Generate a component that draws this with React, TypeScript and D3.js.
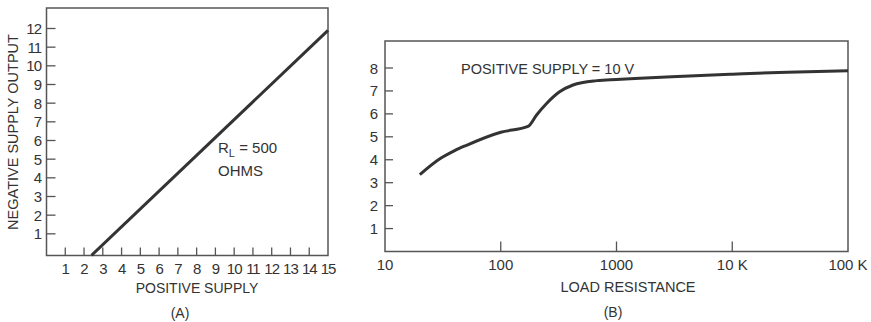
import React from "react";
import * as d3 from "d3";

// Chart A data
const aXTicks = [1, 2, 3, 4, 5, 6, 7, 8, 9, 10, 11, 12, 13, 14, 15];
const aYTicks = [1, 2, 3, 4, 5, 6, 7, 8, 9, 10, 11, 12];
const aLineX = [2.4, 15];
const aLineY = [-0.15, 11.9];

// Chart B data
const bXTicks = [10, 100, 1000, 10000, 100000];
const bXTickLabels = ["10", "100", "1000", "10 K", "100 K"];
const bYTicks = [1, 2, 3, 4, 5, 6, 7, 8];
const bR = [20, 30, 40, 50, 100, 172, 204, 250, 320, 421, 677, 1000, 1600, 3000, 10000, 30000, 100000];
const bV = [3.35, 4.05, 4.4, 4.62, 5.2, 5.45, 5.95, 6.46, 6.95, 7.26, 7.45, 7.5, 7.55, 7.62, 7.73, 7.82, 7.88];

const FONT = "'Liberation Sans', Arial, sans-serif";
const INK = "#333";
const FRAME = "#555";

export default function App() {
  // Chart A scales
  const ax = d3.scaleLinear().domain([0, 15]).range([46.5, 328]);
  const ay = d3.scaleLinear().domain([0, 12]).range([252.5, 28.5]);
  const aTop = 8;
  const aBottom = 255.5;

  // Chart B scales
  const bx = d3.scaleLog().domain([10, 100000]).range([385, 848]);
  const by = d3.scaleLinear().domain([0, 8]).range([251.5, 68]);
  const bTop = 41;
  const bBottom = 251.5;

  const aLine = d3.line<number>().x((d, i) => ax(aLineX[i])).y((d, i) => ay(aLineY[i]));
  const bLine = d3
    .line<number>()
    .x((d, i) => bx(bR[i]))
    .y((d, i) => by(bV[i]))
    .curve(d3.curveMonotoneX);

  return (
    <svg width={871} height={322} style={{ position: "absolute", left: 0, top: 0, background: "#fff" }}>
      <g fontFamily={FONT} fill={INK}>
        {/* Chart A frame */}
        <path
          d={`M${ax(0)},${aTop} L${ax(0)},${aBottom} L${ax(15)},${aBottom} L${ax(15)},${aTop} Z`}
          fill="none"
          stroke={FRAME}
          strokeWidth={1.5}
        />
        {aXTicks.slice(0, 14).map((t) => (
          <line key={"axt" + t} x1={ax(t)} x2={ax(t)} y1={aBottom} y2={aBottom - 8} stroke={FRAME} strokeWidth={1.3} />
        ))}
        {aXTicks.map((t) => (
          <text key={"axl" + t} x={ax(t)} y={273.5} fontSize={15} textAnchor="middle" letterSpacing={-1}>
            {t}
          </text>
        ))}
        {aYTicks.map((t) => (
          <line key={"ayt" + t} x1={ax(0)} x2={ax(0) + 9} y1={ay(t)} y2={ay(t)} stroke={FRAME} strokeWidth={1.3} />
        ))}
        {aYTicks.map((t) => (
          <text key={"ayl" + t} x={41} y={ay(t) + 5.5} fontSize={15} textAnchor="end" letterSpacing={-1}>
            {t}
          </text>
        ))}
        <path d={aLine(aLineX) || ""} fill="none" stroke={INK} strokeWidth={3} />
        <text x={218} y={153} fontSize={15}>
          R
          <tspan fontSize={11} dy={4}>L</tspan>
          <tspan dy={-4}> = 500</tspan>
        </text>
        <text x={218} y={176} fontSize={15}>OHMS</text>
        <text x={197} y={293} fontSize={14} textAnchor="middle">POSITIVE SUPPLY</text>
        <text x={180} y={318} fontSize={14} textAnchor="middle">(A)</text>
        <text
          x={0}
          y={0}
          fontSize={14.5}
          textAnchor="middle"
          transform={`translate(18,132) rotate(-90)`}
        >
          NEGATIVE SUPPLY OUTPUT
        </text>

        {/* Chart B frame */}
        <path
          d={`M${bx(10)},${bTop} L${bx(10)},${bBottom} L${bx(100000)},${bBottom} L${bx(100000)},${bTop} Z`}
          fill="none"
          stroke={FRAME}
          strokeWidth={1.5}
        />
        {bXTicks.slice(1, 4).map((t) => (
          <line key={"bxt" + t} x1={bx(t)} x2={bx(t)} y1={bBottom} y2={bBottom - 10} stroke={FRAME} strokeWidth={1.3} />
        ))}
        {bXTicks.map((t, i) => (
          <text key={"bxl" + t} x={bx(t)} y={270} fontSize={15} textAnchor="middle">
            {bXTickLabels[i]}
          </text>
        ))}
        {bYTicks.map((t) => (
          <line key={"byt" + t} x1={bx(10)} x2={bx(10) + 8} y1={by(t)} y2={by(t)} stroke={FRAME} strokeWidth={1.3} />
        ))}
        {bYTicks.map((t) => (
          <text key={"byl" + t} x={378} y={by(t) + 5.5} fontSize={15} textAnchor="end">
            {t}
          </text>
        ))}
        <path d={bLine(bR) || ""} fill="none" stroke={INK} strokeWidth={3} />
        <text x={461} y={74} fontSize={14.5}>POSITIVE SUPPLY = 10 V</text>
        <text x={628} y={292} fontSize={14.5} textAnchor="middle">LOAD RESISTANCE</text>
        <text x={613} y={317} fontSize={14} textAnchor="middle">(B)</text>
      </g>
    </svg>
  );
}
